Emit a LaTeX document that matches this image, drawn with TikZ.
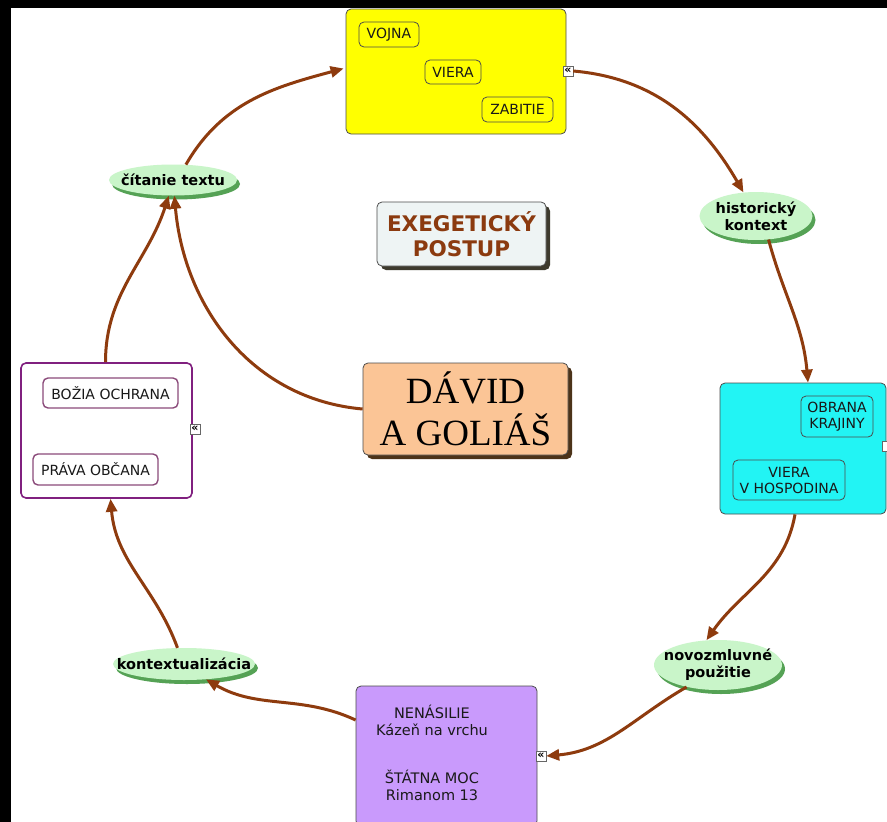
\documentclass[tikz,border=0pt]{standalone}
\usepackage{fontspec}
\setmainfont{DejaVu Sans}
\newfontfamily\davfont{Liberation Serif}
\usetikzlibrary{arrows.meta,shadows,shapes.geometric,calc}
\definecolor{arrbrown}{HTML}{8E3B0E}
\definecolor{elgreen}{HTML}{C9F5C9}
\definecolor{elshadow}{HTML}{55A255}
\definecolor{yelbox}{HTML}{FFFF00}
\definecolor{cybox}{HTML}{22F4F4}
\definecolor{purbox}{HTML}{C99AFC}
\definecolor{lbborder}{HTML}{80207F}
\definecolor{innerpur}{HTML}{8B4A7A}
\definecolor{exfill}{HTML}{EEF4F4}
\definecolor{extext}{HTML}{8B3A0F}
\definecolor{peach}{HTML}{FBC596}
\tikzset{
  bigbox/.style={draw=black!70, line width=0.8pt, rounded corners=5pt, inner sep=0pt},
  inlabel/.style={draw=black!70, line width=0.8pt, rounded corners=5pt, inner sep=0pt, align=center, font=\fontsize{14}{16}\selectfont, text=black!90},
  ell/.style={ellipse, fill=elgreen, inner sep=0pt,
    drop shadow={shadow xshift=3pt, shadow yshift=-4pt, fill=elshadow, opacity=1}},
  elltext/.style={align=center, inner sep=0pt, font=\bfseries\fontsize{14.5}{17}\selectfont},
  icon/.style={draw=black!60, fill=white, inner sep=0pt, minimum width=10pt, minimum height=10pt, font=\bfseries\fontsize{11}{11}\selectfont},
  arr/.style={draw=arrbrown, line width=3pt, -{Triangle[length=13pt,width=11pt]}},
}
\begin{document}
\begin{tikzpicture}[x=1pt,y=1pt]
\useasboundingbox (0,0) rectangle (887,-822);
\fill[black] (0,0) rectangle (887,-822);
\fill[white] (11,-8) rectangle (887,-822);

% yellow box
\node[bigbox, fill=yelbox, minimum width=220pt, minimum height=125pt] (yel) at (456,-71.5) {};
\node[inlabel, minimum width=60pt, minimum height=25pt] (vojna) at (389,-34.5) {VOJNA};
\node[inlabel, minimum width=56pt, minimum height=24pt] (viera) at (453,-72) {VIERA};
\node[inlabel, minimum width=71pt, minimum height=25pt] (zab) at (517.5,-109.5) {ZABITIE};
\node[icon] (iy) at (568,-71) {«};

% exegeticky
\node[bigbox, fill=exfill, minimum width=169pt, minimum height=64pt, align=center,
  font=\bfseries\fontsize{21.5}{25}\selectfont, text=extext,
  drop shadow={shadow xshift=4pt, shadow yshift=-4pt, fill=black!75!olive, opacity=1}] (exe) at (461.5,-234) {EXEGETICKÝ\\POSTUP};

% david
\node[bigbox, fill=peach, minimum width=205pt, minimum height=92pt, align=center,
  font=\davfont\fontsize{37}{42}\selectfont,
  drop shadow={shadow xshift=4pt, shadow yshift=-4pt, fill=black!60!brown, opacity=1}] (dav) at (465.5,-409) {DÁVID\\A GOLIÁŠ};

% left box
\node[draw=lbborder, line width=1.6pt, rounded corners=5pt, fill=white, minimum width=171pt, minimum height=135pt] (lb) at (106.5,-430.5) {};
\node[inlabel, draw=innerpur, line width=1.4pt, minimum width=135pt, minimum height=30pt] (boz) at (110.5,-393) {BOŽIA OCHRANA};
\node[inlabel, draw=innerpur, line width=1.4pt, minimum width=125pt, minimum height=31pt] (prav) at (95.5,-469.5) {PRÁVA OBČANA};
\node[icon] (il) at (195,-429) {«};

% cyan box
\node[bigbox, fill=cybox, minimum width=166pt, minimum height=131pt] (cy) at (803,-448.5) {};
\node[inlabel, minimum width=72pt, minimum height=41pt] (obr) at (837,-416.5) {OBRANA\\KRAJINY};
\node[inlabel, minimum width=112pt, minimum height=40pt] (vhos) at (789,-480) {VIERA\\V HOSPODINA};
% partial icon square at the cyan box's right edge
\fill[white] (882,-441) rectangle (887,-451);
\draw[black!60, line width=0.8pt] (887,-441) -- (882,-441) -- (882,-451) -- (887,-451);

% purple box
\node[bigbox, fill=purbox, minimum width=181pt, minimum height=140pt] (pur) at (446.5,-756) {};
\node[align=center, font=\fontsize{14.5}{17}\selectfont, text=black!90] (nen) at (432,-720) {NENÁSILIE\\Kázeň na vrchu};
\node[align=center, font=\fontsize{14.5}{17}\selectfont, text=black!90] (stat) at (432,-785) {ŠTÁTNA MOC\\Rimanom 13};
\node[icon] (ip) at (541,-756) {«};

% ellipses
\node[ell, minimum width=128pt, minimum height=31pt] (cit) at (173,-180) {};
\node[elltext] (citt) at (cit.center) {čítanie textu};
\node[ell, minimum width=113pt, minimum height=48pt] (hist) at (756,-216) {};
\node[elltext] (histt) at (hist.center) {historický\\kontext};
\node[ell, minimum width=128pt, minimum height=50pt] (novo) at (718,-665) {};
\node[elltext] (novot) at (novo.center) {novozmluvné\\použitie};
\node[ell, minimum width=142pt, minimum height=32pt] (kon) at (184,-664) {};
\node[elltext] (kont) at (kon.center) {kontextualizácia};

% arrows
\draw[arr] (iy.east) to[out=-5,in=120] (hist.118);
\draw[arr] (hist.-62) to[out=-75,in=95] ($(cy.north)+(5,0)$);
\draw[arr] ($(cy.south)+(-8,0)$) to[out=-100,in=55] (novo.115);
\draw[arr] (novo.-145) to[out=-150,in=5] (ip.east);
\draw[arr] ($(pur.west)+(0,36)$) to[out=155,in=-30] (kon.-35);
\draw[arr] (kon.112) to[out=110,in=-85] ($(lb.south)+(4,0)$);
\draw[arr] ($(lb.north)+(-1,0)$) to[out=90,in=-108] (cit.-105);
\draw[arr] (dav.west) to[out=175,in=-85] (cit.-85);
\draw[arr] (cit.50) to[out=60,in=195] ($(yel.west)+(-2,3)$);
\end{tikzpicture}
\end{document}
